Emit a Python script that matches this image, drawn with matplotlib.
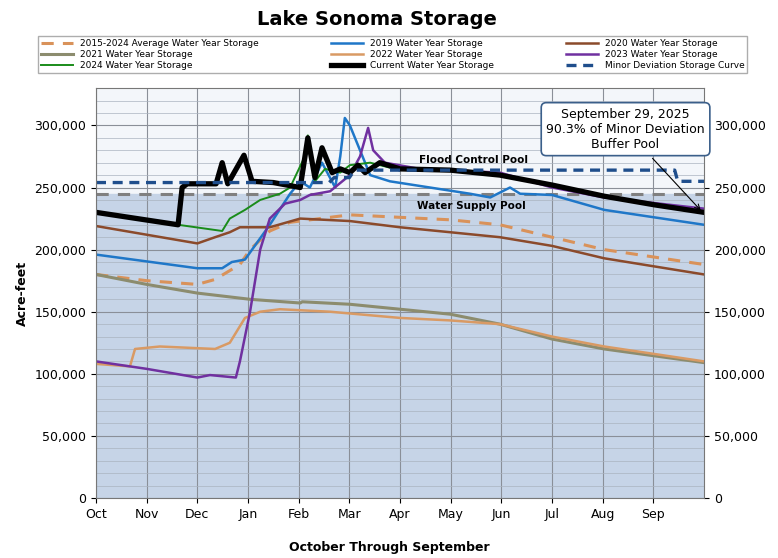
import matplotlib
matplotlib.use("Agg")
import matplotlib.pyplot as plt
import numpy as np

# x in months since Oct 1 (0..12), y in acre-feet
months = ["Oct", "Nov", "Dec", "Jan", "Feb", "Mar", "Apr", "May", "Jun", "Jul", "Aug", "Sep"]

avg_x = [0, 1.0, 2.0, 2.35, 2.84, 3.04, 3.43, 3.83, 4.42, 5.01, 6.0, 6.99, 7.97, 9.0, 10.03, 12]
avg_y = [180e3, 175e3, 172e3, 176e3, 188e3, 200e3, 215e3, 222e3, 225e3, 228e3, 226e3, 224e3, 220e3, 210e3, 200e3, 188e3]

w2019_x = [0, 2.0, 2.49, 2.68, 2.94, 3.43, 3.83, 4.03, 4.22, 4.46, 4.72, 4.82, 4.91, 5.01, 5.11, 5.41, 5.8, 6.59, 7.38, 7.78, 8.17, 8.37, 9.0, 10.03, 12]
w2019_y = [196e3, 185e3, 185e3, 190e3, 192e3, 220e3, 245e3, 255e3, 250e3, 270e3, 250e3, 275e3, 306e3, 300e3, 290e3, 260e3, 255e3, 250e3, 245e3, 242e3, 250e3, 245e3, 244e3, 232e3, 220e3]

w2020_x = [0, 2.0, 2.35, 2.64, 2.84, 3.43, 4.03, 5.01, 6.0, 6.99, 7.97, 9.0, 10.03, 12]
w2020_y = [219e3, 205e3, 210e3, 214e3, 218e3, 218e3, 225e3, 223e3, 218e3, 214e3, 210e3, 203e3, 193e3, 180e3]

w2021_x = [0, 1.0, 2.0, 3.04, 4.03, 4.07, 5.01, 6.0, 6.99, 7.97, 9.0, 10.03, 12]
w2021_y = [180e3, 172e3, 165e3, 160e3, 157e3, 158e3, 156e3, 152e3, 148e3, 140e3, 128e3, 120e3, 109e3]

w2022_x = [0, 0.67, 0.77, 1.26, 2.35, 2.64, 2.94, 3.24, 3.63, 4.62, 6.0, 6.99, 7.97, 9.0, 10.03, 12]
w2022_y = [108e3, 106e3, 120e3, 122e3, 120e3, 125e3, 145e3, 150e3, 152e3, 150e3, 145e3, 143e3, 140e3, 130e3, 122e3, 110e3]

w2023_x = [0, 1.0, 2.0, 2.25, 2.76, 2.84, 3.04, 3.24, 3.43, 3.73, 4.03, 4.22, 4.62, 5.01, 5.21, 5.37, 5.47, 5.7, 6.39, 7.97, 9.0, 10.03, 12]
w2023_y = [110e3, 104e3, 97e3, 99e3, 97e3, 110e3, 150e3, 200e3, 225e3, 237e3, 240e3, 244e3, 247e3, 260e3, 275e3, 298e3, 280e3, 270e3, 265e3, 262e3, 250e3, 242e3, 233e3]

w2024_x = [1.62, 2.49, 2.64, 2.94, 3.24, 3.63, 3.83, 4.12, 4.18, 4.32, 4.52, 4.82, 5.01, 5.41, 5.8, 6.0]
w2024_y = [220e3, 215e3, 225e3, 232e3, 240e3, 245e3, 250e3, 275e3, 292e3, 255e3, 265e3, 262e3, 268e3, 270e3, 266e3, 265e3]

cur_x = [0, 1.62, 1.70, 1.80, 2.37, 2.49, 2.6, 2.92, 3.08, 3.5, 4.03, 4.18, 4.32, 4.46, 4.66, 4.82, 5.01, 5.17, 5.31, 5.6, 6.0, 6.99, 7.97, 9.0, 10.03, 11.03, 12]
cur_y = [230e3, 220e3, 250e3, 253e3, 253e3, 270e3, 253e3, 276e3, 255e3, 254e3, 250e3, 290e3, 258e3, 282e3, 262e3, 265e3, 262e3, 268e3, 262e3, 270e3, 265e3, 264e3, 260e3, 252e3, 243e3, 236e3, 230e3]

minor_x = [0, 4.6, 4.7, 5.0, 5.1, 11.42, 11.48, 12]
minor_y = [254e3, 254e3, 258e3, 258e3, 264e3, 264e3, 255e3, 255e3]

water_supply = 245e3

fig = plt.figure(figsize=(7.78, 5.58), dpi=100)
ax = fig.add_axes([0.1234, 0.1075, 0.7816, 0.7345])
ax.set_facecolor("#f3f6fa")
ax.axhspan(0, water_supply, color="#c6d4e7", zorder=0)

ax.set_xlim(0, 12)
ax.set_ylim(0, 330000)
ax.set_xticks(range(12))
ax.set_xticklabels(months, fontsize=9)
ax.set_yticks(np.arange(0, 300001, 50000))
ax.set_yticks(np.arange(0, 330001, 10000), minor=True)
ax.yaxis.set_major_formatter(matplotlib.ticker.FuncFormatter(lambda v, p: f"{int(v):,}"))
ax.tick_params(axis="y", labelsize=9, right=True, labelright=True)
ax.tick_params(axis="y", which="minor", length=0)
ax.grid(True, which="major", color="#8a8f98", lw=0.8)
ax.grid(True, which="minor", axis="y", color="#aab3c0", lw=0.5)
ax.set_axisbelow(True)
for s in ax.spines.values():
    s.set_color("#777777")

ax.axhline(water_supply, color="#808080", lw=2.2, ls=(0, (4, 3)))
ax.plot(avg_x, avg_y, color="#d9925a", lw=2.2, ls=(0, (4, 3)), label="2015-2024 Average Water Year Storage")
ax.plot(w2019_x, w2019_y, color="#1f77c8", lw=1.8, label="2019 Water Year Storage")
ax.plot(w2020_x, w2020_y, color="#8b4a2b", lw=1.8, label="2020 Water Year Storage")
ax.plot(w2021_x, w2021_y, color="#8c8c6e", lw=2.2, label="2021 Water Year Storage")
ax.plot(w2022_x, w2022_y, color="#d99a64", lw=1.8, label="2022 Water Year Storage")
ax.plot(w2023_x, w2023_y, color="#7030a0", lw=1.8, label="2023 Water Year Storage")
ax.plot(w2024_x, w2024_y, color="#1a8c1a", lw=1.4, label="2024 Water Year Storage")
ax.plot(cur_x, cur_y, color="black", lw=3.8, label="Current Water Year Storage")
ax.plot(minor_x, minor_y, color="#1f4e8c", lw=2.4, ls=(0, (3, 2)), label="Minor Deviation Storage Curve")

ax.text(7.45, 270000, "Flood Control Pool", fontsize=7.5, fontweight="bold", ha="center")
ax.text(7.4, 233000, "Water Supply Pool", fontsize=7.5, fontweight="bold", ha="center")

ax.annotate("September 29, 2025\n90.3% of Minor Deviation\nBuffer Pool", xy=(11.97, 230000),
            xytext=(10.45, 297000), fontsize=9, ha="center", va="center",
            bbox=dict(boxstyle="round,pad=0.4", fc="white", ec="#3b5f8a", lw=1.2),
            arrowprops=dict(arrowstyle="->", color="black", lw=0.8))

ax.set_ylabel("Acre-feet", fontsize=9, fontweight="bold")
fig.text(0.5, 0.012, "October Through September", fontsize=9, fontweight="bold", ha="center")
fig.text(0.485, 0.955, "Lake Sonoma Storage", fontsize=14, fontweight="bold", ha="center")

h, l = ax.get_legend_handles_labels()
# reorder row-wise into 3 columns
order = [0, 3, 6, 1, 4, 7, 2, 5, 8]
fig.legend([h[i] for i in order], [l[i] for i in order], ncol=3, loc="upper center",
           bbox_to_anchor=(0.505, 0.935), fontsize=6.5, frameon=True, fancybox=False,
           edgecolor="#999999", handlelength=3.5, columnspacing=8, borderaxespad=0,
           labelspacing=0.25, borderpad=0.3)

fig.savefig("out.png", dpi=100)
